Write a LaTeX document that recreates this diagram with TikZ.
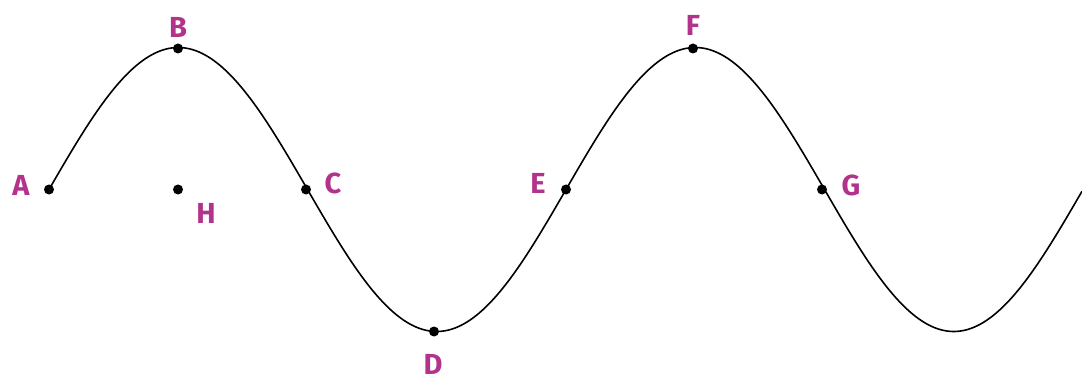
\documentclass[tikz,border=0pt]{standalone}
\usepackage{fontspec}
\setmainfont{Fira Sans}
\definecolor{lbl}{HTML}{B2338C}
\tikzset{
  dot/.style={circle,fill=black,inner sep=0pt,minimum size=10pt},
  lab/.style={text=lbl,font=\fontsize{29}{29}\selectfont\bfseries,inner sep=0pt},
  wave/.style={line width=1.6pt,black}
}
\begin{document}
\begin{tikzpicture}[x=1pt,y=-1pt]
\useasboundingbox (0,0) rectangle (1082,385);
\draw[wave] plot[domain=49:1082,samples=400] (\x,{189.5-142*sin((\x-49)*0.696325)});
\node[dot] (A) at (49,189.5) {};
\node[dot] (B) at (178,48.5) {};
\node[dot] (C) at (306,189.5) {};
\node[dot] (D) at (434,331.5) {};
\node[dot] (E) at (566,189.5) {};
\node[dot] (F) at (693,48.5) {};
\node[dot] (G) at (822,189.5) {};
\node[dot] (H) at (178,189.5) {};
\node[lab] (lA) at (21,185) {A};
\node[lab] (lB) at (178,27) {B};
\node[lab] (lC) at (333,183) {C};
\node[lab] (lD) at (433,364) {D};
\node[lab] (lE) at (538,183) {E};
\node[lab] (lF) at (693,25) {F};
\node[lab] (lG) at (851,185) {G};
\node[lab] (lH) at (206,213) {H};
\end{tikzpicture}
\end{document}
